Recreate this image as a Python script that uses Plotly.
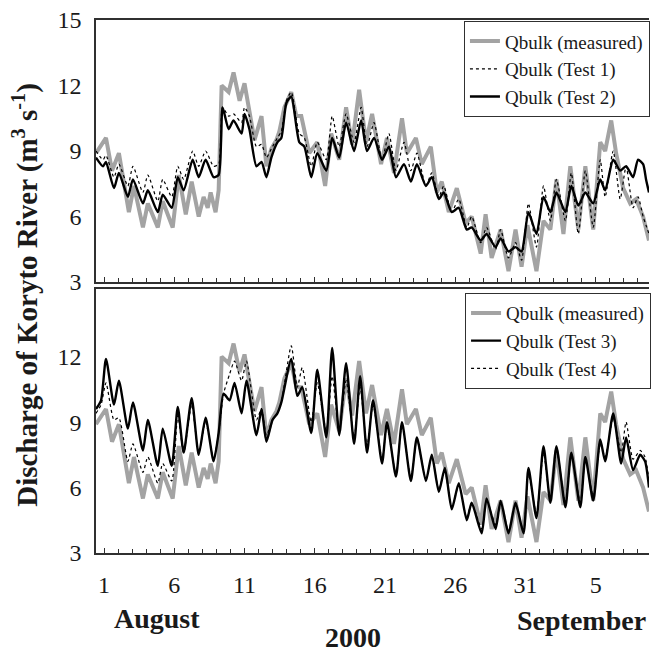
import plotly.graph_objects as go

# ---------------- data (days since 31 July 2000; 1 = 1 August, 32 = 1 September) -------------
day_meas = [0.43, 1.14, 1.57, 2.06, 2.77, 3.13, 3.77, 4.12, 4.83, 5.18,
            5.89, 6.32, 6.82, 7.24, 7.74, 8.09, 8.38, 8.59, 8.94, 9.16,
            9.37, 9.87, 10.22, 10.65, 11.00, 11.35, 11.71, 12.21, 12.56, 12.91,
            13.27, 13.48, 13.84, 14.33, 14.69, 15.04, 15.61, 16.18, 16.74, 17.17,
            17.74, 18.23, 18.66, 19.16, 19.65, 20.08, 20.72, 21.14, 21.64, 22.21,
            22.56, 23.20, 23.62, 24.26, 24.69, 25.04, 25.54, 26.11, 26.74, 27.17,
            27.81, 28.16, 28.59, 29.23, 29.79, 30.29, 30.72, 31.14, 31.78, 32.28,
            32.77, 33.20, 33.70, 34.19, 34.76, 35.26, 35.82, 36.32, 36.67, 37.10,
            37.45, 37.95, 38.45, 38.87, 39.37, 39.79]
q_measured = [8.9, 9.6, 8.1, 8.9, 6.2, 7.4, 5.5, 6.6, 5.5, 6.7,
              5.5, 7.9, 6.1, 7.6, 6.0, 6.9, 6.4, 7.1, 6.2, 7.2,
              12.0, 11.7, 12.6, 11.3, 12.1, 10.7, 9.5, 10.6, 8.3, 9.1,
              9.5, 9.9, 11.0, 11.7, 10.6, 10.6, 8.9, 9.4, 7.4, 9.8,
              8.6, 11.0, 9.3, 11.8, 9.4, 10.7, 8.4, 9.6, 8.0, 10.5,
              8.9, 9.6, 8.4, 9.2, 7.1, 7.6, 6.2, 7.3, 5.7, 6.0,
              4.3, 6.1, 4.1, 5.4, 3.5, 5.4, 3.7, 5.6, 3.5, 5.8,
              5.4, 7.7, 5.2, 8.3, 5.4, 8.3, 5.4, 9.4, 9.0, 10.4,
              8.9, 7.3, 6.6, 6.8, 6.0, 4.9]

day_t12 = [0.43, 0.93, 1.14, 1.71, 2.06, 2.70, 3.06, 3.77, 4.12, 4.83,
           5.18, 5.82, 6.25, 6.67, 7.31, 7.74, 8.23, 8.80, 9.16, 9.44,
           9.87, 10.22, 10.79, 11.00, 11.35, 11.85, 12.21, 12.56, 12.91, 13.34,
           13.62, 13.98, 14.33, 14.90, 15.26, 15.75, 16.18, 16.82, 17.24, 17.74,
           18.23, 18.80, 19.30, 19.72, 20.22, 20.79, 21.28, 21.78, 22.35, 22.84,
           23.27, 23.91, 24.33, 24.83, 25.18, 25.75, 26.25, 26.82, 27.17, 27.81,
           28.23, 28.87, 29.23, 29.79, 30.29, 30.72, 31.21, 31.78, 32.28, 32.77,
           33.20, 33.84, 34.26, 34.76, 35.26, 35.82, 36.32, 36.67, 37.24, 37.74,
           38.16, 38.66, 39.01, 39.37, 39.58, 39.79]
q_test1 = [9.0, 8.6, 8.8, 7.8, 8.4, 7.4, 8.3, 7.1, 7.9, 6.7,
           7.7, 6.9, 8.3, 7.7, 9.0, 8.3, 9.0, 8.3, 8.4, 11.0,
           10.6, 10.7, 10.3, 11.0, 10.6, 9.2, 9.3, 8.7, 9.1, 9.6,
           9.9, 11.3, 11.7, 9.8, 9.6, 8.3, 9.4, 8.6, 10.6, 9.2,
           10.7, 9.4, 11.0, 9.2, 10.3, 8.6, 9.8, 8.1, 9.4, 8.1,
           8.9, 7.4, 8.0, 6.9, 7.4, 6.2, 6.8, 5.5, 6.0, 4.8,
           5.5, 4.5, 5.4, 4.1, 4.8, 4.0, 6.6, 4.6, 7.4, 5.8,
           7.7, 5.8, 8.0, 5.2, 8.1, 5.5, 8.6, 6.9, 9.0, 6.8,
           8.3, 6.4, 6.9, 6.0, 5.6, 5.2]
q_test2 = [8.7, 8.3, 8.5, 7.3, 8.0, 6.9, 7.7, 6.6, 7.2, 6.2,
           7.0, 6.4, 7.8, 7.2, 8.6, 7.8, 8.6, 7.8, 7.9, 11.0,
           10.0, 10.4, 9.8, 10.7, 10.0, 8.3, 8.5, 7.8, 8.7, 9.4,
           9.6, 11.2, 11.5, 9.4, 9.2, 7.8, 8.9, 8.1, 9.6, 8.7,
           10.3, 9.0, 10.4, 9.0, 9.6, 8.6, 9.2, 7.8, 8.4, 7.6,
           8.4, 7.4, 7.8, 6.8, 7.1, 6.2, 6.4, 5.4, 5.5, 4.9,
           5.2, 4.6, 5.0, 4.4, 4.6, 4.4, 6.2, 5.2, 6.9, 6.2,
           7.1, 6.2, 7.4, 6.5, 7.1, 6.6, 7.7, 7.2, 8.6, 8.1,
           8.3, 7.8, 8.6, 8.4, 7.7, 7.1]

day_t34 = [0.43, 0.79, 1.14, 1.71, 2.06, 2.70, 3.06, 3.77, 4.12, 4.83,
           5.18, 5.82, 6.25, 6.67, 7.24, 7.74, 8.23, 8.80, 9.16, 9.51,
           9.94, 10.29, 10.79, 11.14, 11.85, 12.21, 12.56, 12.99, 13.34, 13.62,
           14.33, 14.76, 15.11, 15.75, 16.18, 16.82, 17.24, 17.74, 18.23, 18.80,
           19.23, 19.72, 20.15, 20.79, 21.14, 21.78, 22.21, 22.84, 23.27, 23.91,
           24.33, 24.83, 25.26, 25.75, 26.25, 26.82, 27.17, 27.88, 28.23, 28.87,
           29.23, 29.79, 30.29, 30.86, 31.21, 31.78, 32.28, 32.77, 33.20, 33.84,
           34.26, 34.90, 35.26, 35.82, 36.32, 36.67, 37.24, 37.81, 38.16, 38.66,
           39.16, 39.51, 39.79]
q_test3 = [9.6, 10.0, 11.9, 9.8, 10.9, 8.7, 9.9, 7.7, 9.1, 7.0,
           8.7, 7.0, 9.7, 7.6, 10.1, 7.5, 9.2, 7.2, 8.5, 10.3,
           10.0, 10.8, 9.4, 10.9, 8.4, 9.6, 8.1, 9.1, 9.4, 9.9,
           11.9, 10.2, 10.6, 8.5, 11.4, 8.3, 12.4, 8.4, 11.7, 8.0,
           11.1, 7.6, 10.0, 7.1, 9.0, 6.5, 9.0, 6.3, 8.3, 6.3,
           7.5, 5.8, 6.9, 5.0, 6.2, 4.5, 5.3, 3.9, 5.5, 4.1,
           5.4, 3.9, 5.3, 3.9, 6.9, 4.6, 7.9, 5.3, 7.9, 5.1,
           7.6, 5.1, 7.4, 5.4, 8.2, 7.2, 9.4, 7.1, 8.3, 6.8,
           7.5, 7.2, 6.0]
q_test4 = [9.4, 9.8, 10.8, 9.1, 9.2, 7.2, 8.0, 6.7, 7.4, 6.2,
           7.1, 6.3, 9.3, 7.6, 9.8, 7.6, 9.0, 7.3, 8.5, 10.3,
           11.2, 11.8, 10.9, 11.8, 9.1, 9.6, 8.4, 9.1, 9.4, 9.9,
           12.5, 10.6, 11.5, 9.0, 10.8, 8.6, 11.1, 8.6, 10.9, 8.3,
           10.6, 7.9, 9.8, 7.3, 8.8, 6.6, 8.9, 6.4, 8.2, 6.4,
           7.4, 5.9, 6.8, 5.1, 6.1, 4.6, 5.3, 4.1, 5.4, 4.3,
           5.3, 4.0, 5.2, 4.0, 6.6, 4.8, 7.6, 5.4, 7.7, 5.3,
           7.5, 5.3, 7.3, 5.6, 8.0, 7.4, 9.2, 7.6, 9.0, 7.3,
           7.7, 7.4, 6.3]

x_tick_days = [1, 6, 11, 16, 21, 26, 31, 36]
x_tick_text = ["1", "6", "11", "16", "21", "26", "31", "5"]
y_ticks_top = [3, 6, 9, 12, 15]
y_ticks_bottom = [3, 6, 9, 12]

# ---------------- figure ----------------
SERIF = "Liberation Serif, Times New Roman, serif"
GREY = "#a3a3a3"
AX = "#303030"

fig = go.Figure()

meas_style = dict(color=GREY, width=4)
solid_style = dict(color="black", width=2.4, shape="spline", smoothing=0.6)
dot_style = dict(color="black", width=1.2, dash="dot", shape="spline", smoothing=0.6)

# top panel
fig.add_trace(go.Scatter(x=day_meas, y=q_measured, mode="lines", line=meas_style,
                         name="Qbulk (measured)", xaxis="x", yaxis="y", legend="legend"))
fig.add_trace(go.Scatter(x=day_t12, y=q_test1, mode="lines", line=dot_style,
                         name="Qbulk (Test 1)", xaxis="x", yaxis="y", legend="legend"))
fig.add_trace(go.Scatter(x=day_t12, y=q_test2, mode="lines", line=solid_style,
                         name="Qbulk (Test 2)", xaxis="x", yaxis="y", legend="legend"))
# bottom panel
fig.add_trace(go.Scatter(x=day_meas, y=q_measured, mode="lines", line=meas_style,
                         name="Qbulk (measured)", xaxis="x2", yaxis="y2", legend="legend2"))
fig.add_trace(go.Scatter(x=day_t34, y=q_test3, mode="lines", line=solid_style,
                         name="Qbulk (Test 3)", xaxis="x2", yaxis="y2", legend="legend2"))
fig.add_trace(go.Scatter(x=day_t34, y=q_test4, mode="lines", line=dot_style,
                         name="Qbulk (Test 4)", xaxis="x2", yaxis="y2", legend="legend2"))

xcommon = dict(range=[0.43, 39.79], showgrid=False, zeroline=False,
               showline=True, linecolor=AX, linewidth=1.6, mirror=True,
               tickmode="array", tickvals=x_tick_days,
               ticks="inside", ticklen=5, tickwidth=1, tickcolor=AX,
               minor=dict(ticks="inside", dtick=1, tick0=0, ticklen=4,
                          tickwidth=1, tickcolor=AX, showgrid=False))
ycommon = dict(showgrid=False, zeroline=False, showline=True, linecolor=AX,
               linewidth=1.6, mirror=False, ticks="", tickmode="array",
               tickfont=dict(family=SERIF, size=24, color="#1a1a1a"),
               ticklabelstandoff=8)

fig.update_layout(
    width=651, height=653,
    margin=dict(l=96, r=0, t=20, b=100),
    paper_bgcolor="white", plot_bgcolor="white",
    font=dict(family=SERIF, color="#1a1a1a"),
    xaxis=dict(xcommon, anchor="y", showticklabels=False, matches="x2"),
    yaxis=dict(ycommon, domain=[0.5084, 1.0], range=[3, 15], tickvals=y_ticks_top, anchor="x"),
    xaxis2=dict(xcommon, anchor="y2", ticktext=x_tick_text, showticklabels=True,
                tickfont=dict(family=SERIF, size=24, color="#1a1a1a"),
                ticklabelstandoff=9),
    yaxis2=dict(ycommon, domain=[0.0, 0.4953], range=[3, 15.1], tickvals=y_ticks_bottom, anchor="x2"),
    legend=dict(x=0.665, y=0.998, xanchor="left", yanchor="top",
                bgcolor="white", bordercolor=AX, borderwidth=1.2,
                font=dict(family=SERIF, size=19, color="#1a1a1a"),
                tracegroupgap=0, itemwidth=30),
    legend2=dict(x=0.667, y=0.488, xanchor="left", yanchor="top",
                 bgcolor="white", bordercolor=AX, borderwidth=1.2,
                 font=dict(family=SERIF, size=19, color="#1a1a1a"),
                 tracegroupgap=0, itemwidth=30),
    showlegend=True,
)

bold = dict(family=SERIF, size=28, color="#1a1a1a")
fig.add_annotation(text="<b>Discharge of Koryto River (m<sup>3</sup> s<sup>-1</sup>)</b>",
                   xref="paper", yref="paper", x=-0.128, y=0.485, textangle=-90,
                   showarrow=False, font=dict(bold, size=29), xanchor="center", yanchor="middle")
fig.add_annotation(text="<b>August</b>", xref="paper", yref="paper", x=0.11, y=-0.122,
                   showarrow=False, font=bold, xanchor="center", yanchor="middle")
fig.add_annotation(text="<b>September</b>", xref="paper", yref="paper", x=0.998, y=-0.126,
                   showarrow=False, font=bold, xanchor="right", yanchor="middle")
fig.add_annotation(text="<b>2000</b>", xref="paper", yref="paper", x=0.465, y=-0.158,
                   showarrow=False, font=bold, xanchor="center", yanchor="middle")

fig.write_html("out.html", config={"displayModeBar": False},
               post_script="document.body.style.margin='0';document.body.style.padding='0';")
